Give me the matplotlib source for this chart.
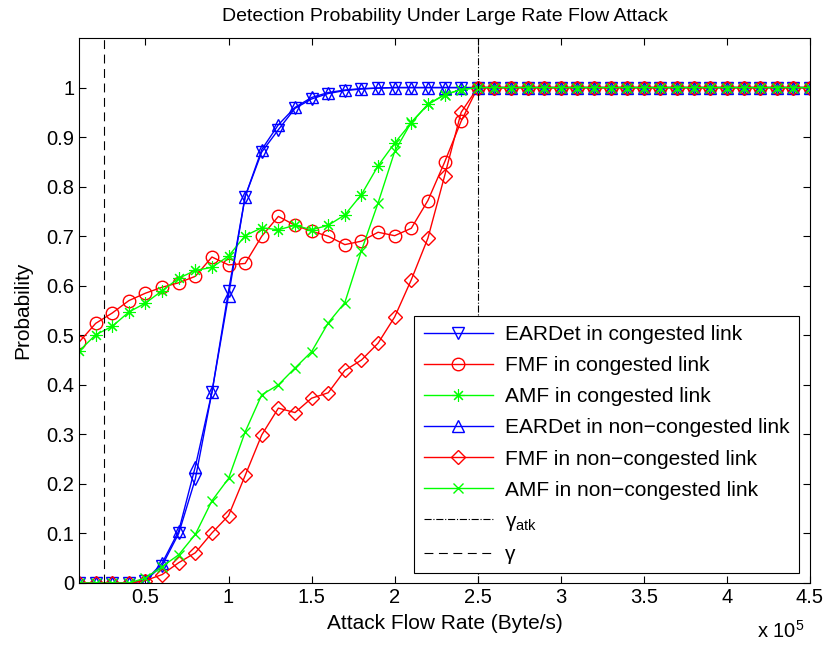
import numpy as np
import matplotlib
matplotlib.use('Agg')
import matplotlib.pyplot as plt
from matplotlib.ticker import FuncFormatter

plt.rcParams['font.family'] = ['Liberation Sans', 'DejaVu Sans']
plt.rcParams['mathtext.fontset'] = 'custom'
plt.rcParams['mathtext.rm'] = 'Liberation Sans'
plt.rcParams['mathtext.it'] = 'Liberation Sans:italic'

# attack flow rate, Byte/s (0.1e5 ... 4.5e5)
rate = np.arange(1, 46) * 1e4
gamma = 0.25e5
gamma_atk = 2.5e5

# detection probability, first 24 points (0.1e5..2.4e5), then all 1
eardet_cong = [0, 0, 0, 0, 0.005, 0.035, 0.10, 0.21, 0.385, 0.59, 0.78, 0.87,
               0.915, 0.958, 0.977, 0.988, 0.994, 0.997, 0.999, 1, 1, 1, 1, 1] + [1.0] * 21
fmf_cong = [0.486, 0.524, 0.545, 0.570, 0.585, 0.597, 0.606, 0.619, 0.658, 0.642, 0.645, 0.700,
            0.740, 0.722, 0.710, 0.700, 0.683, 0.690, 0.708, 0.701, 0.716, 0.772, 0.849, 0.932] + [1.0] * 21
amf_cong = [0.468, 0.501, 0.518, 0.547, 0.565, 0.590, 0.615, 0.631, 0.637, 0.660, 0.701, 0.717,
            0.713, 0.722, 0.713, 0.722, 0.743, 0.784, 0.842, 0.888, 0.929, 0.966, 0.986, 0.996] + [1.0] * 21
eardet_noncong = [0, 0, 0, 0, 0.005, 0.04, 0.105, 0.235, 0.385, 0.58, 0.78, 0.875,
                  0.925, 0.96, 0.98, 0.99, 0.995, 0.998, 0.999, 1, 1, 1, 1, 1] + [1.0] * 21
fmf_noncong = [0, 0, 0, 0, 0.005, 0.017, 0.041, 0.061, 0.101, 0.136, 0.217, 0.299,
               0.353, 0.344, 0.373, 0.384, 0.429, 0.450, 0.484, 0.537, 0.612, 0.696, 0.821, 0.950] + [1.0] * 21
amf_noncong = [0, 0, 0, 0, 0.01, 0.033, 0.057, 0.098, 0.166, 0.211, 0.305, 0.380,
               0.400, 0.434, 0.467, 0.525, 0.566, 0.671, 0.767, 0.871, 0.930, 0.966, 0.985, 0.996] + [1.0] * 21

fig = plt.figure(figsize=(8.25, 6.49), dpi=100)
ax = fig.add_axes([0.0958, 0.1017, 0.886, 0.8397])

green = (0, 1, 0)
star = (8, 2, 0)  # matlab style asterisk
ms = 9
ax.plot(rate, eardet_cong, color='b', marker='v', mfc='none', ms=ms, lw=1, label='EARDet in congested link')
ax.plot(rate, fmf_cong, color='r', marker='o', mfc='none', ms=ms, lw=1, label='FMF in congested link')
ax.plot(rate, amf_cong, color=green, marker=star, ms=9, mew=0.8, lw=1, label='AMF in congested link')
ax.plot(rate, eardet_noncong, color='b', marker='^', mfc='none', ms=ms, lw=1, label='EARDet in non\u2212congested link')
ax.plot(rate, fmf_noncong, color='r', marker='D', mfc='none', ms=7, lw=1, label='FMF in non\u2212congested link')
ax.plot(rate, amf_noncong, color=green, marker='x', ms=7, lw=1, label='AMF in non\u2212congested link')
ax.axvline(gamma_atk, color='k', ls='-.', lw=0.8, label='\u03b3$_{\\rm atk}$')
ax.axvline(gamma, color='k', ls=(0, (8, 5)), lw=0.8, label='\u03b3')

ax.set_xlim(1e4, 4.5e5)
ax.set_ylim(0, 1.1)
ax.set_xticks(np.arange(0.5e5, 4.6e5, 0.5e5))
ax.set_yticks(np.arange(0, 1.01, 0.1))
ax.xaxis.set_major_formatter(FuncFormatter(lambda v, p: '%g' % round(v / 1e5, 2)))
ax.yaxis.set_major_formatter(FuncFormatter(lambda v, p: '%g' % round(v, 2)))
ax.tick_params(direction='in', top=True, right=True, length=5, labelsize=14.5)
for s in ax.spines.values():
    s.set_linewidth(0.8)

ax.set_title('Detection Probability Under Large Rate Flow Attack', fontsize=14, pad=12)
ax.set_xlabel('Attack Flow Rate (Byte/s)', fontsize=15, labelpad=5)
ax.set_ylabel('Probability', fontsize=15, labelpad=10)
fig.text(0.917, 0.018, r'x 10$^5$', fontsize=14.5)

leg = ax.legend(loc='lower right', bbox_to_anchor=(0.985, 0.018), borderaxespad=0,
                fontsize=15, handlelength=3.3, handletextpad=0.6, fancybox=False, framealpha=1,
                edgecolor='k', labelspacing=0.58, borderpad=0.45)
leg.get_frame().set_linewidth(0.8)

fig.savefig('out.png', dpi=100)
